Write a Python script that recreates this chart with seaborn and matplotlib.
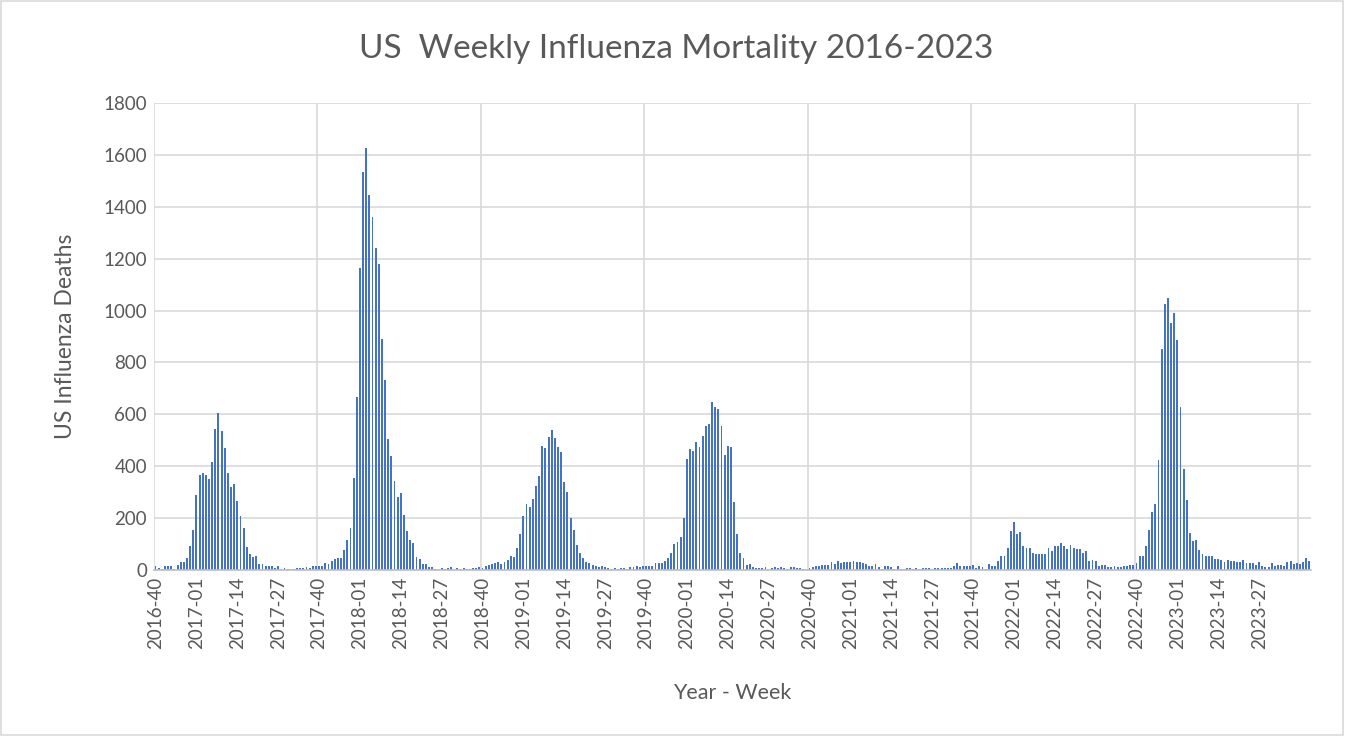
import numpy as np
import pandas as pd
import seaborn as sns
import matplotlib.pyplot as plt
from matplotlib.patches import Rectangle

# Weekly US influenza deaths, one list per season (week 40 to week 39)
season_2016_17 = [15, 9, 5, 15, 14, 15, 5, 19, 32, 32, 45, 92, 156, 288, 368, 373, 365, 350, 418, 543,
                  605, 534, 472, 375, 319, 333, 265, 208, 161, 90, 61, 49, 54, 23, 23, 17, 17, 14, 9, 17,
                  1, 9, 3, 1, 5, 9, 8, 9, 13, 9, 15, 17]
season_2017_18 = [17, 17, 28, 23, 36, 44, 47, 45, 79, 115, 163, 356, 668, 1164, 1536, 1625, 1447, 1361,
                  1241, 1180, 890, 734, 506, 440, 344, 283, 297, 212, 150, 115, 103, 52, 41, 23, 23, 10,
                  10, 5, 5, 9, 4, 8, 13, 1, 9, 4, 9, 5, 5, 8, 9, 13]
season_2018_19 = [9, 14, 18, 23, 26, 31, 24, 31, 38, 55, 50, 86, 140, 209, 255, 244, 274, 324, 363, 478,
                  471, 512, 540, 508, 476, 455, 338, 301, 200, 153, 97, 67, 47, 31, 27, 21, 15, 13, 14, 12,
                  8, 4, 6, 5, 8, 6, 5, 10, 10, 14, 12, 15]
season_2019_20 = [15, 14, 15, 29, 29, 29, 36, 47, 67, 99, 109, 128, 201, 429, 468, 460, 492, 476, 515, 556,
                  563, 649, 630, 622, 556, 442, 477, 475, 261, 140, 65, 47, 18, 22, 10, 8, 8, 6, 10, 1,
                  8, 12, 8, 12, 9, 5, 12, 12, 8, 6, 4, 1]
season_2020_21 = [6, 12, 14, 14, 19, 19, 19, 30, 23, 35, 27, 30, 30, 30, 35, 30, 31, 27, 22, 14, 14, 23,
                  12, 3, 14, 14, 12, 3, 14, 5, 5, 8, 6, 4, 6, 4, 9, 6, 6, 1, 6, 6, 9, 9, 9, 9, 14, 28,
                  14, 16, 16, 16]
season_2021_22 = [18, 9, 14, 12, 5, 23, 14, 16, 35, 54, 54, 84, 152, 186, 140, 148, 91, 85, 83, 65, 62, 60,
                  62, 62, 84, 72, 93, 91, 104, 92, 80, 98, 85, 80, 80, 67, 72, 34, 38, 34, 16, 21, 21, 13,
                  13, 16, 10, 10, 16, 16, 18, 21]
season_2022_23 = [26, 54, 54, 93, 154, 225, 255, 426, 851, 1026, 1049, 952, 992, 888, 628, 388, 271, 142,
                  111, 116, 76, 61, 53, 53, 53, 43, 43, 39, 32, 39, 35, 35, 31, 31, 39, 27, 27, 27, 21,
                  30, 16, 13, 12, 26, 16, 18, 18, 16, 30, 34, 22, 28]
season_2023_24 = [25, 31, 45, 36]

seasons = [season_2016_17, season_2017_18, season_2018_19, season_2019_20,
           season_2020_21, season_2021_22, season_2022_23, season_2023_24]

# Category labels "YYYY-WW", seasons start at week 40 and years have 52 weeks
week_labels = []
for start_year, season in zip(range(2016, 2024), seasons):
    for i in range(len(season)):
        week = 40 + i
        year = start_year
        if week > 52:
            week -= 52
            year += 1
        week_labels.append(f"{year}-{week:02d}")

deaths = [v for season in seasons for v in season]
df = pd.DataFrame({"week": week_labels, "deaths": deaths})

# Style
sns.set_style("white")
plt.rcParams["font.family"] = ["Lato", "DejaVu Sans"]
text_color = "#595959"
grid_color = "#d9d9d9"

fig = plt.figure(figsize=(13.46, 7.36), dpi=100)
ax = fig.add_axes([0.1144, 0.2255, 0.8596, 0.6345])

sns.barplot(data=df, x="week", y="deaths", color="#4472C4", saturation=1,
            width=0.6, linewidth=0, ax=ax, zorder=2)

# Axes limits and grid
n = len(df)
ax.set_xlim(-0.5, n - 0.5)
ax.set_ylim(0, 1800)
ax.set_yticks(np.arange(0, 1801, 200))
ax.yaxis.grid(True, color=grid_color, lw=1.2)
for k in range(0, n // 52 + 1):
    ax.axvline(52 * k - 0.5, color=grid_color, lw=1.2, zorder=0)
ax.set_axisbelow(True)

# Ticks every 13 weeks
tick_pos = list(range(0, 352, 13))
ax.set_xticks(tick_pos)
ax.set_xticklabels([week_labels[i] for i in tick_pos], rotation=90)
ax.tick_params(axis="both", length=0, labelsize=13.5, labelcolor=text_color, pad=5)

for side in ["top", "right", "left"]:
    ax.spines[side].set_visible(False)
ax.spines["bottom"].set_color("#bfbfbf")
ax.spines["bottom"].set_linewidth(1.2)

# Labels
ax.set_xlabel("Year - Week", fontsize=15.5, color=text_color, labelpad=24)
ax.set_ylabel("US Influenza Deaths", fontsize=16.5, color=text_color, labelpad=20)
fig.text(0.502, 0.933, "US  Weekly Influenza Mortality 2016-2023", ha="center", va="center",
         fontsize=24, color=text_color)

# Chart border
fig.patches.append(Rectangle((0.001, 0.002), 0.997, 0.996, transform=fig.transFigure,
                             fill=False, edgecolor=grid_color, lw=1.2))

plt.savefig("out.png", dpi=100)
